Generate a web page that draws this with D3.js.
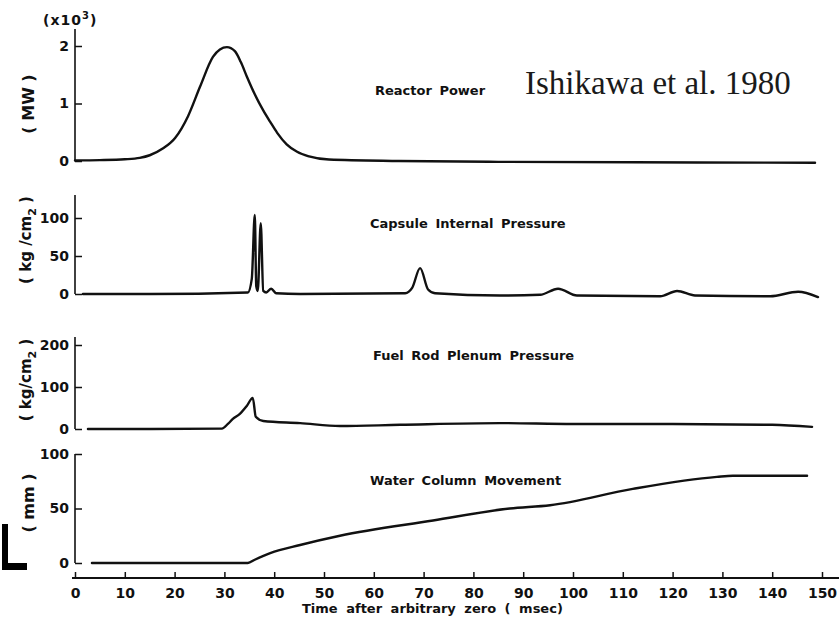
<!DOCTYPE html>
<html>
<head>
<meta charset="utf-8">
<script src="https://cdn.jsdelivr.net/npm/d3@7/dist/d3.min.js"></script>
<style>
  html, body { margin: 0; padding: 0; background: #fff; }
  svg { display: block; }
  .lbl { font-family: "DejaVu Sans", sans-serif; font-weight: bold; fill: #111; }
  .tick text { font-family: "DejaVu Sans", sans-serif; font-weight: bold; fill: #111; }
</style>
</head>
<body>
<svg id="chart" width="839" height="631"></svg>
<script>
// Time axis (msec)
const timeTicks = [0, 10, 20, 30, 40, 50, 60, 70, 80, 90, 100, 110, 120, 130, 140, 150];

// Reactor power (MW)
const powerTime = [0, 5, 10, 13, 15, 17.7, 20.1, 22.7, 25.1, 27.7, 29.1, 30.5, 32.1, 33.3, 34.5, 36.1, 37.8, 39.2, 40.6, 42.5, 44.6, 47, 51, 65, 85, 125, 148.6];
const powerMW   = [10, 15, 30, 55, 100, 220, 400, 780, 1290, 1810, 1940, 1980, 1910, 1720, 1470, 1160, 880, 680, 490, 290, 160, 80, 25, 0, -15, -25, -30];
const powerTicks = [0, 1000, 2000];

// Capsule internal pressure (kg/cm2)
const capsuleTime = [1.6, 15, 34.7, 35.5, 36.1, 36.4, 36.7, 37.3, 37.8, 38.4, 39.4, 40.4, 45.2, 66.3, 67.7, 69.3, 70.9, 72.3, 85.3, 93.4, 97, 100.8, 117.5, 120.9, 124.5, 139.6, 145.2, 149.2];
const capsuleP    = [0, 0, 2, 20, 104, 10, 4, 93, 4, 2, 7, 1, 0, 1, 8, 34, 6, 1, -2, -1, 7, -2, -3, 4, -2, -3, 3, -4];
const capsuleTicks = [0, 50, 100];

// Fuel rod plenum pressure (kg/cm2)
const plenumTime = [2.6, 15.1, 29.5, 30.7, 31.7, 33.1, 34.5, 35.7, 36.3, 37.8, 45.2, 53.2, 65.3, 85.3, 100, 120, 140, 148];
const plenumP    = [0, 0, 1, 12, 24, 36, 55, 74, 29, 19, 14, 7, 10, 14, 12, 12, 10, 5];
const plenumTicks = [0, 100, 200];

// Water column movement (mm)
const waterTime = [3.4, 25.1, 34.7, 36.1, 39.2, 45.2, 53.2, 71.9, 87.3, 95.4, 112, 128.9, 132.1, 147];
const waterMM   = [0, 0, 0, 3, 9, 16.5, 25, 39, 50, 53, 68, 79, 80, 80];
const waterTicks = [0, 50, 100];

const svg = d3.select("#chart");
const W = 839;
const x = d3.scaleLinear().domain([0, 150]).range([75, 822]);

const panels = [
  { t: powerTime,   v: powerMW,  ticks: powerTicks,   y: d3.scaleLinear().domain([0, 2000]).range([161, 46]), top: 29,  fmt: d => d / 1000,
    title: "Reactor Power", tx: 375, ty: 95 },
  { t: capsuleTime, v: capsuleP, ticks: capsuleTicks, y: d3.scaleLinear().domain([0, 100]).range([294, 218]), top: 195, fmt: d => d,
    title: "Capsule Internal Pressure", tx: 370, ty: 228 },
  { t: plenumTime,  v: plenumP,  ticks: plenumTicks,  y: d3.scaleLinear().domain([0, 200]).range([429, 345]), top: 337, fmt: d => d,
    title: "Fuel Rod Plenum Pressure", tx: 373, ty: 360 },
  { t: waterTime,   v: waterMM,  ticks: waterTicks,   y: d3.scaleLinear().domain([0, 100]).range([563, 454]), top: 454, fmt: d => d,
    title: "Water Column Movement", tx: 370, ty: 485 }
];

const x0 = x(0);

panels.forEach(p => {
  const g = svg.append("g");
  // vertical axis line
  g.append("line")
    .attr("x1", x0).attr("x2", x0)
    .attr("y1", p.top).attr("y2", p.y(0))
    .attr("stroke", "#111").attr("stroke-width", 1.6);
  // ticks pointing into the plot, labels on the left
  const ax = d3.axisLeft(p.y).tickValues(p.ticks).tickFormat(p.fmt)
    .tickSizeInner(-7).tickSizeOuter(0).tickPadding(6);
  const ag = g.append("g").attr("transform", `translate(${x0},0)`).call(ax);
  ag.select(".domain").remove();
  ag.selectAll(".tick line").attr("stroke", "#111").attr("stroke-width", 1.5);
  ag.selectAll(".tick text").style("font-size", "14px");

  const data = p.t.map((t, i) => [t, p.v[i]]);
  const line = d3.line().x(d => x(d[0])).y(d => p.y(d[1])).curve(d3.curveMonotoneX);
  g.append("path").datum(data).attr("d", line)
    .attr("fill", "none").attr("stroke", "#111").attr("stroke-width", 2.4)
    .attr("stroke-linejoin", "round").attr("stroke-linecap", "round");

  g.append("text").attr("class", "lbl")
    .attr("x", p.tx).attr("y", p.ty)
    .style("font-size", "13px").style("word-spacing", "3px")
    .text(p.title);
});

// y-axis unit labels (rotated)
function yLabel(cx, cy, size, parts) {
  const t = svg.append("text").attr("class", "lbl")
    .attr("transform", `translate(${cx},${cy}) rotate(-90)`)
    .attr("text-anchor", "middle")
    .style("font-size", size + "px");
  parts.forEach(pt => {
    const s = t.append("tspan").text(pt.s);
    if (pt.sup) s.attr("dy", pt.sup).style("font-size", "11px");
    if (pt.back) s.attr("dy", pt.back);
  });
}
yLabel(34, 104, 16, [{ s: "( MW )" }]);
yLabel(31, 240, 15, [{ s: "( kg /cm" }, { s: "2", sup: 5 }, { s: " )", back: -5 }]);
yLabel(31, 380, 15, [{ s: "( kg/cm" }, { s: "2", sup: 5 }, { s: " )", back: -5 }]);
yLabel(34, 503, 16, [{ s: "( mm )" }]);

// power multiplier
const mult = svg.append("text").attr("class", "lbl")
  .attr("x", 43).attr("y", 25).style("font-size", "14px").style("letter-spacing", "1px");
mult.append("tspan").text("(x10");
mult.append("tspan").text("3").attr("dy", -6).style("font-size", "10px");
mult.append("tspan").text(")").attr("dy", 6);

// citation
svg.append("text")
  .attr("x", 525).attr("y", 94)
  .style("font-family", "'Liberation Serif', serif")
  .style("font-size", "33px").style("fill", "#1a1a1a")
  .text("Ishikawa et al. 1980");

// time axis: ticks point up, labels below
const axY = 578;
svg.append("line")
  .attr("x1", x0 - 3).attr("x2", W).attr("y1", axY).attr("y2", axY)
  .attr("stroke", "#111").attr("stroke-width", 1.8);
const xa = d3.axisBottom(x).tickValues(timeTicks).tickFormat(d3.format("d"))
  .tickSizeInner(-6).tickSizeOuter(0).tickPadding(10);
const xg = svg.append("g").attr("transform", `translate(0,${axY})`).call(xa);
xg.select(".domain").remove();
xg.selectAll(".tick line").attr("stroke", "#111").attr("stroke-width", 1.5);
xg.selectAll(".tick text").style("font-size", "14px");

svg.append("text").attr("class", "lbl")
  .attr("x", 302).attr("y", 613)
  .style("font-size", "13px").style("word-spacing", "4px")
  .text("Time after arbitrary zero ( msec)");

// corner bracket at the lower left
svg.append("path")
  .attr("d", "M2,524 H8 V563 H27 V570 H2 Z")
  .attr("fill", "#000");
</script>
</body>
</html>
